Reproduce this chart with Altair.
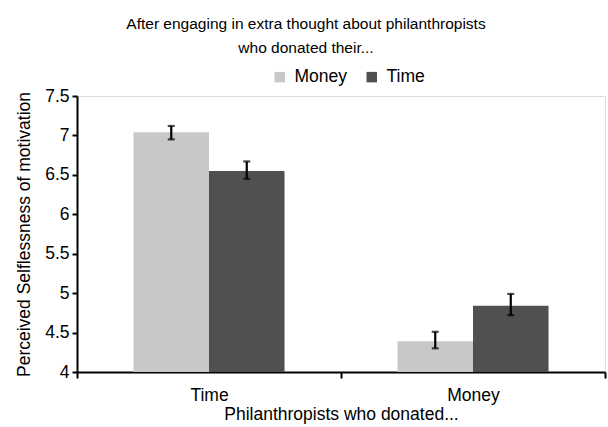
import altair as alt
import pandas as pd

groups = ["Time", "Money"]
conditions = ["Money", "Time"]
means = [7.04, 6.55, 4.39, 4.84]
lows = [6.95, 6.45, 4.30, 4.72]
highs = [7.12, 6.67, 4.51, 4.99]

rows = []
i = 0
for g in groups:
    for c in conditions:
        rows.append({"group": g, "cond": c, "mean": means[i], "lo": lows[i], "hi": highs[i], "base": 4})
        i += 1
df = pd.DataFrame(rows)

FONT = "Liberation Sans"
FS = 17.5

xscale = alt.Scale(paddingInner=0, paddingOuter=0)
xaxis = alt.Axis(title="Philanthropists who donated...", labelAngle=0,
                 tickBand="extent", ticks=True, tickSize=6, tickWidth=2,
                 domainWidth=2, domainColor="black", tickColor="black",
                 labelFontSize=FS, titleFontSize=FS, labelColor="black",
                 titleColor="black", labelFont=FONT, titleFont=FONT,
                 labelPadding=8, titlePadding=2, titleFontWeight="normal")
x = alt.X("group:N", sort=groups, scale=xscale, axis=xaxis)
xo = alt.XOffset("cond:N", sort=conditions,
                 scale=alt.Scale(paddingInner=0, paddingOuter=0.748))

yscale = alt.Scale(domain=[4, 7.5], nice=False, zero=False)
yaxis = alt.Axis(title="Perceived Selflessness of motivation",
                 values=[4, 4.5, 5, 5.5, 6, 6.5, 7, 7.5],
                 labelExpr="datum.value + ''", grid=False,
                 tickSize=5, tickWidth=2, domainWidth=2,
                 domainColor="black", tickColor="black",
                 labelFontSize=FS, titleFontSize=FS, labelColor="black",
                 titleColor="black", labelFont=FONT, titleFont=FONT,
                 labelPadding=3, titlePadding=11, titleFontWeight="normal")

bars = alt.Chart(df).mark_bar().encode(
    x=x, xOffset=xo,
    y=alt.Y("mean:Q", scale=yscale, axis=yaxis),
    y2=alt.Y2("base:Q"),
    color=alt.Color("cond:N", sort=conditions,
                    scale=alt.Scale(domain=conditions, range=["#c8c8c8", "#505050"]),
                    legend=alt.Legend(title=None, orient="none", direction="horizontal",
                                      legendX=194, legendY=-28, symbolType="square",
                                      symbolSize=110, symbolStrokeWidth=0,
                                      labelFontSize=FS, labelFont=FONT, labelColor="black",
                                      labelOffset=6, columnPadding=15)),
)

rules = alt.Chart(df).mark_rule(color="black", strokeWidth=2.2).encode(
    x=x, xOffset=xo,
    y=alt.Y("lo:Q", scale=yscale, axis=yaxis), y2="hi:Q",
)
caps_lo = alt.Chart(df).mark_tick(color="black", thickness=2.2, size=7).encode(
    x=x, xOffset=xo,
    y=alt.Y("lo:Q", scale=yscale, axis=yaxis),
)
caps_hi = alt.Chart(df).mark_tick(color="black", thickness=2.2, size=7).encode(
    x=x, xOffset=xo,
    y=alt.Y("hi:Q", scale=yscale, axis=yaxis),
)

chart = alt.layer(bars, rules, caps_lo, caps_hi).properties(
    width=528, height=276,
    title=alt.TitleParams(
        text=["After engaging in extra thought about philanthropists",
              "who donated their..."],
        fontSize=15.5, font=FONT, fontWeight="normal", color="black",
        anchor="middle", dx=-35, offset=12, lineHeight=24),
    autosize=alt.AutoSizeParams(type="none"),
    padding={"left": 77, "top": 96, "right": 3, "bottom": 55},
).configure_view(strokeOpacity=0).configure(background="white")

chart.save("out.html", embed_options={"renderer": "svg", "actions": False})
